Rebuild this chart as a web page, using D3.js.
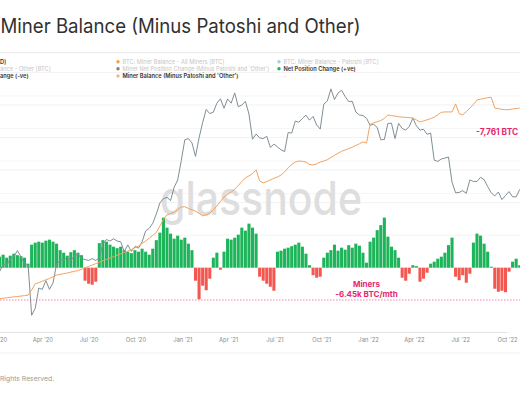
<!DOCTYPE html>
<html>
<head>
<meta charset="utf-8">
<script src="https://cdn.jsdelivr.net/npm/d3@7/dist/d3.min.js"></script>
<style>
  body { margin: 0; background: #fff; }
  svg { display: block; font-family: Inter, "Noto Sans", sans-serif; }
</style>
</head>
<body>
<script>
var w = 520;
var h = 400;

// weekly points, first one is 1 Jan 2020
var startDate = new Date(2020, 0, 1);

// BTC price, k USD
var price = [7.2, 8.1, 8.8, 8.7, 9.4, 9.6, 10.3, 9.6, 8.8, 8.8,
  4.9, 5.3, 6.7, 6.6, 7.3, 6.6, 7.1, 8.8, 9.2, 9.3,
  9.5, 9.2, 9.7, 9.9, 9.4, 9.3, 9.2, 9.4, 9.2, 9.5,
  11.1, 11.7, 11.5, 11.8, 11.5, 11.4, 10.2, 11.0, 10.2, 10.8,
  10.6, 11.4, 12.9, 13.3, 14.1, 15.7, 17.8, 18.7, 19.0, 18.3,
  21.3, 23.2, 28.9, 36.8, 37.3, 35.5, 30.4, 37.6, 44.8, 52.1,
  49.7, 50.5, 56.0, 58.9, 52.8, 58.8, 56.0, 63.0, 53.8, 54.8,
  57.2, 49.5, 37.0, 39.3, 37.6, 37.3, 38.3, 33.7, 35.0, 33.9,
  32.8, 32.1, 40.0, 39.7, 45.6, 45.0, 47.0, 48.8, 46.1, 48.1,
  43.6, 41.6, 55.4, 57.4, 66.0, 58.4, 62.9, 65.0, 60.4, 57.1,
  57.2, 50.6, 48.9, 48.6, 47.1, 43.5, 43.9, 42.4, 36.8, 36.9,
  44.4, 44.5, 37.3, 44.4, 41.9, 41.1, 42.9, 47.1, 43.2, 41.1,
  41.5, 39.2, 39.7, 29.1, 28.7, 29.5, 29.8, 30.2, 22.6, 20.0,
  20.1, 20.5, 19.9, 23.2, 22.8, 22.8, 23.9, 23.3, 21.5, 20.0,
  19.3, 20.2, 18.5, 19.4, 20.3, 19.1, 19.1, 20.8];

// miner balance minus Patoshi and 'Other', k BTC
var balance = [58.7, 59.0, 59.2, 59.5, 59.8, 60.1, 60.3, 60.6, 60.9, 61.2,
  64.5, 68.5, 69.3, 70.2, 71.1, 72.0, 73.1, 74.2, 74.6, 75.1,
  75.5, 76.1, 76.6, 77.1, 77.9, 78.9, 79.8, 80.7, 81.6, 82.5,
  83.4, 84.3, 85.2, 86.1, 87.0, 87.9, 88.7, 89.7, 90.7, 91.8,
  93.0, 94.6, 96.2, 98.0, 99.9, 101.7, 105.9, 110.1, 113.1, 114.0,
  114.8, 116.5, 118.2, 118.4, 117.3, 116.4, 115.5, 114.1, 112.5, 113.2,
  114.2, 116.3, 118.9, 121.8, 124.7, 126.3, 127.9, 129.7, 132.1, 134.7,
  137.0, 138.3, 139.9, 142.2, 135.1, 133.8, 134.7, 135.7, 136.7, 137.6,
  138.9, 140.9, 143.5, 145.7, 147.3, 148.0, 147.7, 147.3, 145.7, 145.4,
  146.1, 147.3, 147.9, 148.8, 150.2, 151.6, 153.0, 154.2, 155.1, 156.0,
  156.9, 158.0, 159.1, 160.3, 159.6, 171.6, 172.6, 173.4, 174.1, 175.5,
  177.8, 177.3, 177.0, 176.6, 176.3, 176.2, 176.0, 175.8, 174.5, 173.2,
  173.9, 174.6, 175.4, 176.3, 177.9, 179.4, 179.7, 179.7, 179.7, 184.9,
  178.6, 177.8, 179.8, 182.2, 184.5, 187.4, 187.9, 188.4, 188.9, 189.1,
  182.2, 181.8, 181.4, 181.1, 181.2, 181.6, 181.9, 182.2];

// net position change, k BTC / month
var netChange = [2.0, 2.2, 2.6, 2.0, 2.4, 2.8, 2.5, 2.3, 2.0, 0.8,
  4.6, 5.0, 5.2, 5.0, 5.4, 5.6, 5.2, 4.8, 3.5, 3.0,
  2.4, 3.1, 3.5, 3.0, 2.5, -2.6, -3.2, -3.4, -2.8, 4.9,
  5.5, 5.2, 4.6, 4.2, 3.9, 4.2, 3.5, 3.2, 2.9, 3.5,
  3.2, 3.8, 3.2, 2.6, 3.8, 5.5, 7.0, 10.0, 8.0, 6.8,
  5.8, 6.4, 5.6, 6.0, 4.8, 3.5, -2.6, -6.3, -3.6, -4.5,
  -2.2, 2.0, 3.0, -0.4, 3.2, 5.8, 5.6, 6.0, 6.6, 8.0,
  7.4, 8.8, 8.0, 6.8, -1.8, -2.6, -3.2, -3.8, -4.6, 3.2,
  3.4, 3.8, 4.0, 4.3, 4.6, 5.0, 4.2, 2.8, 0.5, -1.5,
  -2.0, -1.8, 2.0, 3.0, 3.5, 4.6, 3.4, 4.0, 3.6, 4.5,
  4.0, 4.8, 4.4, 3.0, 1.0, 5.2, 6.0, 7.5, 8.5, 10.0,
  6.2, 4.2, 3.5, 2.0, -2.0, -2.6, -1.2, 0.5, 0.3, -2.8,
  -2.2, -1.0, 0.8, 1.2, 1.8, 2.2, 3.0, 4.5, 6.0, -1.8,
  -2.5, -1.5, -3.0, -1.2, 5.0, 6.8, 6.4, 4.8, 3.2, 0.2,
  -4.2, -4.8, -4.6, -4.9, -0.8, 1.2, 1.8, 0.5];

var netTicks = [0, 6.5, 13, 19.5, 26, 32.5, 39];
var balanceTicks = [127, 148, 169, 190];
var quarterTicks = ["2020-04-01", "2020-07-01", "2020-10-01",
  "2021-01-01", "2021-04-01", "2021-07-01", "2021-10-01",
  "2022-01-01", "2022-04-01", "2022-07-01", "2022-10-01"];
var minerAvg = -6.45;

// legend, first column is cut by the left edge of the picture
var legendCols = [
  [["D]", null, true], ["ance - Other [BTC]", null, false], ["ange (-ve)", null, true]],
  [["BTC: Miner Balance - All Miners [BTC]", "#f0862a", false], ["Miner Net Position Change (Minus Patoshi and 'Other')", "#5d6166", false], ["Miner Balance (Minus Patoshi and 'Other')", "#f3b382", true]],
  [["BTC: Miner Balance - Patoshi [BTC]", "#86c5cf", false], ["Net Position Change (+ve)", "#1fb35a", true], ["-", null, false]]
];

function weekDate(i) { return d3.timeDay.offset(startDate, 7 * i); }

var x = d3.scaleTime()
  .domain([new Date(2020, 0, 1), new Date(2022, 9, 1)])
  .range([-4, 507]);
var yPrice = d3.scaleLog().domain([1, 100]).range([453.7, 52.7]);
var yBal = d3.scaleLinear().domain([60, 190]).range([297, 96]);
var yNet = d3.scaleLinear().domain([minerAvg, 0]).range([300, 267.7]);

var svg = d3.select("body")
  .append("svg")
  .attr("width", w)
  .attr("height", h);

svg.append("rect").attr("width", w).attr("height", h).attr("fill", "#fff");

// title + header
svg.append("text")
  .attr("x", 0.5)
  .attr("y", 33)
  .attr("font-size", 19.5)
  .attr("fill", "#303030")
  .attr("textLength", 360)
  .attr("lengthAdjust", "spacingAndGlyphs")
  .text("Miner Balance (Minus Patoshi and Other)");

svg.append("line")
  .attr("x1", 0).attr("x2", w)
  .attr("y1", 52.7).attr("y2", 52.7)
  .attr("stroke", "#e8e8e8");

// gridlines
svg.selectAll("line.gA")
  .data(netTicks)
  .enter()
  .append("line")
  .attr("class", "gA")
  .attr("x1", 0).attr("x2", w)
  .attr("y1", function(d) { return yNet(d); })
  .attr("y2", function(d) { return yNet(d); })
  .attr("stroke", "#ececec")
  .attr("stroke-width", 0.7);

svg.selectAll("line.gB")
  .data(balanceTicks)
  .enter()
  .append("line")
  .attr("class", "gB")
  .attr("x1", 0).attr("x2", w)
  .attr("y1", function(d) { return yBal(d); })
  .attr("y2", function(d) { return yBal(d); })
  .attr("stroke", "#f2f2f2")
  .attr("stroke-width", 0.7);

// legend
legendCols.forEach(function(col, c) {
  var cx = c === 0 ? 0 : -43 + c * 161;
  col.forEach(function(item, r) {
    var cy = 61.7 + r * 7.1;
    if (item[1]) {
      svg.append("circle")
        .attr("cx", cx).attr("cy", cy).attr("r", 1.7)
        .attr("fill", item[1])
        .attr("opacity", item[2] ? 1 : 0.8);
    }
    svg.append("text")
      .attr("x", c === 0 ? 0 : cx + 4.5)
      .attr("y", cy + 2)
      .attr("font-size", 5.7)
      .attr("font-weight", item[2] ? 600 : 400)
      .attr("fill", item[2] ? "#333" : "#c6c6c6")
      .text(item[0]);
  });
});

// watermark
svg.append("text")
  .attr("x", 160)
  .attr("y", 215)
  .attr("font-size", 47)
  .attr("font-weight", 500)
  .attr("fill", "#dedede")
  .attr("textLength", 202)
  .attr("lengthAdjust", "spacingAndGlyphs")
  .text("glassnode");

// bars
var bw = x(weekDate(1)) - x(weekDate(0)) - 0.5;
svg.selectAll("rect.bar")
  .data(netChange)
  .enter()
  .append("rect")
  .attr("class", "bar")
  .attr("x", function(d, i) { return x(weekDate(i)) - bw / 2; })
  .attr("y", function(d) { return d >= 0 ? yNet(d) : yNet(0); })
  .attr("width", bw)
  .attr("height", function(d) { return Math.abs(yNet(d) - yNet(0)); })
  .attr("fill", function(d) { return d >= 0 ? "#1db45a" : "#f4574f"; });

// price line
svg.append("path")
  .datum(price)
  .attr("fill", "none")
  .attr("stroke", "#7f8f96")
  .attr("stroke-width", 1)
  .attr("d", d3.line()
    .x(function(d, i) { return x(weekDate(i)); })
    .y(function(d) { return yPrice(d); }));

// balance line
svg.append("path")
  .datum(balance)
  .attr("fill", "none")
  .attr("stroke", "#f5a25d")
  .attr("stroke-width", 1)
  .attr("d", d3.line()
    .x(function(d, i) { return x(weekDate(i)); })
    .y(function(d) { return yBal(d); }));

// miner average line
svg.append("line")
  .attr("x1", 0).attr("x2", w)
  .attr("y1", yNet(minerAvg)).attr("y2", yNet(minerAvg))
  .attr("stroke", "#ec4f86")
  .attr("stroke-width", 0.7)
  .attr("stroke-dasharray", "1.5,1.5");

// annotations
svg.append("text")
  .attr("x", 476).attr("y", 134.5)
  .attr("font-size", 8.3).attr("font-weight", 700)
  .attr("fill", "#e8266d")
  .text("-7,761 BTC");

svg.append("text")
  .attr("x", 366.5).attr("y", 287.3)
  .attr("text-anchor", "middle")
  .attr("font-size", 8).attr("font-weight", 700)
  .attr("fill", "#e8266d")
  .text("Miners");

svg.append("text")
  .attr("x", 366.5).attr("y", 297.3)
  .attr("text-anchor", "middle")
  .attr("font-size", 8).attr("font-weight", 700)
  .attr("fill", "#e8266d")
  .text("-6.45k BTC/mth");

// x axis
var xAxis = d3.axisBottom(x)
  .tickValues(quarterTicks.map(function(s) { return d3.timeParse("%Y-%m-%d")(s); }))
  .tickFormat(d3.timeFormat("%b '%y"))
  .tickSize(0)
  .tickPadding(6);

var gx = svg.append("g")
  .attr("transform", "translate(0,332)")
  .call(xAxis);
gx.select(".domain").attr("stroke", "#e3e3e3");
gx.selectAll("text")
  .attr("font-family", "Inter, sans-serif")
  .attr("font-size", 5.8)
  .attr("fill", "#8a8a8a");

// Jan '20 label, only its end shows
svg.append("text")
  .attr("x", 0).attr("y", 342.2)
  .attr("font-size", 5.8)
  .attr("fill", "#8a8a8a")
  .text("20");

svg.append("line")
  .attr("x1", 0).attr("x2", w)
  .attr("y1", 353).attr("y2", 353)
  .attr("stroke", "#efefef");

svg.append("text")
  .attr("x", 0).attr("y", 381)
  .attr("font-size", 6.8)
  .attr("fill", "#9a9a9a")
  .text("Rights Reserved.");
</script>
</body>
</html>
